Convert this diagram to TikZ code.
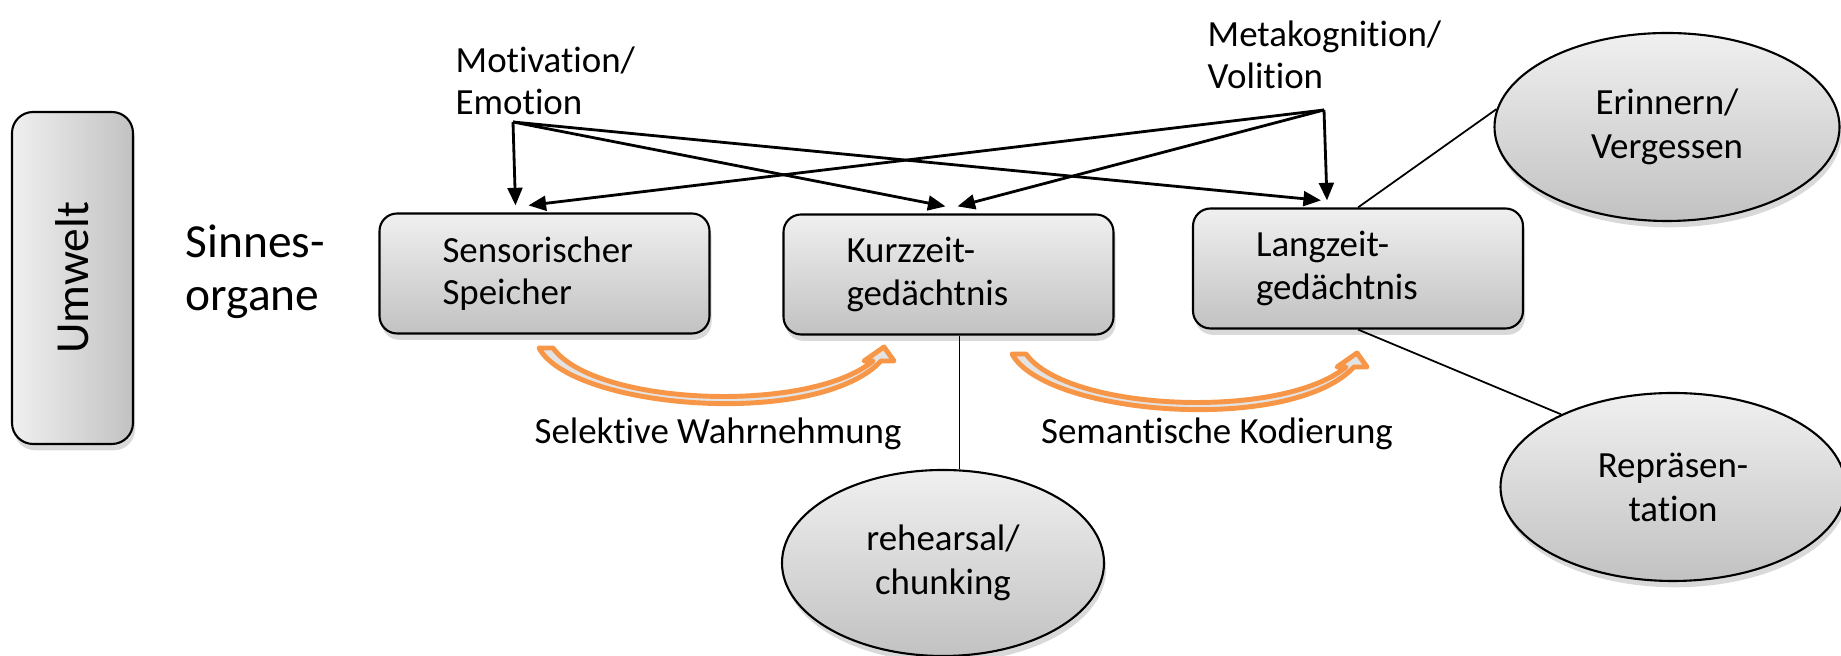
\documentclass[tikz,border=0pt]{standalone}
\usepackage{fontspec}
\setmainfont{Carlito}[Ligatures=NoCommon]
\usepackage{xcolor}
\usetikzlibrary{shapes,arrows.meta,positioning,calc,shadows}
\definecolor{pptorange}{RGB}{247,150,70}

\begin{document}
\begin{tikzpicture}[
    font=\fontsize{10.5}{12}\selectfont,
    box/.style={draw, line width=0.6pt, rounded corners=5pt, minimum width=3.3cm, minimum height=1.2cm,
        text width=2.04cm, align=left, top color=gray!12, bottom color=gray!48,
        drop shadow={opacity=0.3, shadow xshift=0.6pt, shadow yshift=-1.8pt}},
    umweltbox/.style={draw, line width=0.6pt, rounded corners=6pt, minimum width=1.21cm, minimum height=3.32cm,
        left color=gray!12, right color=gray!48,
        drop shadow={opacity=0.3, shadow xshift=0.6pt, shadow yshift=-1.8pt}},
    blob/.style={ellipse, draw, line width=0.6pt, minimum width=3.45cm, minimum height=1.88cm, inner sep=0pt,
        align=center, font=\fontsize{10.5}{12.5}\selectfont, top color=gray!12, bottom color=gray!48,
        drop shadow={opacity=0.3, shadow xshift=0.6pt, shadow yshift=-1.8pt}},
    pfeil/.style={-{Triangle[length=5pt,width=4.2pt]}, line width=0.8pt},
    linie/.style={line width=0.5pt},
    bogen/.style={draw=pptorange, line width=1.4pt, fill=gray!22, line join=round}
]
\useasboundingbox (0,0) rectangle (18.41,6.56);

% Umwelt und Sinnesorgane
\node[umweltbox] (umwelt) at (0.725,3.78) {};
\node[rotate=90, font=\fontsize{13.5}{15}\selectfont] (umwelttext) at (umwelt.center) {Umwelt};
\node[anchor=west, align=left, inner sep=0pt, font=\fontsize{13.5}{15}\selectfont] (sinne) at (1.85,3.84) {Sinnes-\\organe};

% Speicher
\node[box] (sensor) at (5.445,3.825) {Sensorischer\\Speicher};
\node[box] (kurz) at (9.485,3.815) {Kurzzeit-\\gedächtnis};
\node[box] (lang) at (13.58,3.875) {Langzeit-\\gedächtnis};

% Einflussfaktoren
\node[anchor=west, align=left, inner sep=0pt] (motiv) at (4.55,5.75) {Motivation/\\Emotion};
\node[anchor=west, align=left, inner sep=0pt] (meta) at (12.07,6.01) {Metakognition/\\Volition};
\coordinate (motpt) at (5.13,5.34);
\coordinate (metapt) at (13.24,5.46);

\foreach \ziel/\dx in {sensor/-0.29, kurz/-0.03, lang/-0.37}
    \draw[pfeil] (motpt) -- ([xshift=\dx cm, yshift=2pt]\ziel.north);
\foreach \ziel/\dx in {sensor/-0.16, kurz/0.09, lang/-0.31}
    \draw[pfeil] (metapt) -- ([xshift=\dx cm, yshift=2pt]\ziel.north);

% Prozesse
\node[blob] (erin) at (16.67,5.29) {Erinnern/\\Vergessen};
\node[blob] (repr) at (16.73,1.69) {Repräsen-\\tation};
\node[blob, minimum width=3.22cm, minimum height=1.86cm] (reh) at (9.43,0.93) {rehearsal/\\chunking};

\draw[linie] (lang.north) -- (erin.174);
\draw[linie] (lang.south) -- (repr.147);
\draw[linie] (kurz.south -| reh.80) -- (reh.80);

% orange Pfeile
\foreach \dx/\dy in {-0.03/0.06, 4.7/0}
    \draw[bogen, shift={(\dx,\dy)}] (5.42,3.02) .. controls (5.75,2.41) and (8.20,2.21) .. (8.84,2.89)
        -- (8.97,2.89) -- (8.87,3.03) -- (8.67,2.89) -- (8.76,2.89)
        .. controls (8.12,2.36) and (5.98,2.44) .. (5.56,3.02) -- cycle;

\node (selektiv) at (7.18,2.22) {Selektive Wahrnehmung};
\node (semantik) at (12.17,2.22) {Semantische Kodierung};
\end{tikzpicture}
\end{document}
